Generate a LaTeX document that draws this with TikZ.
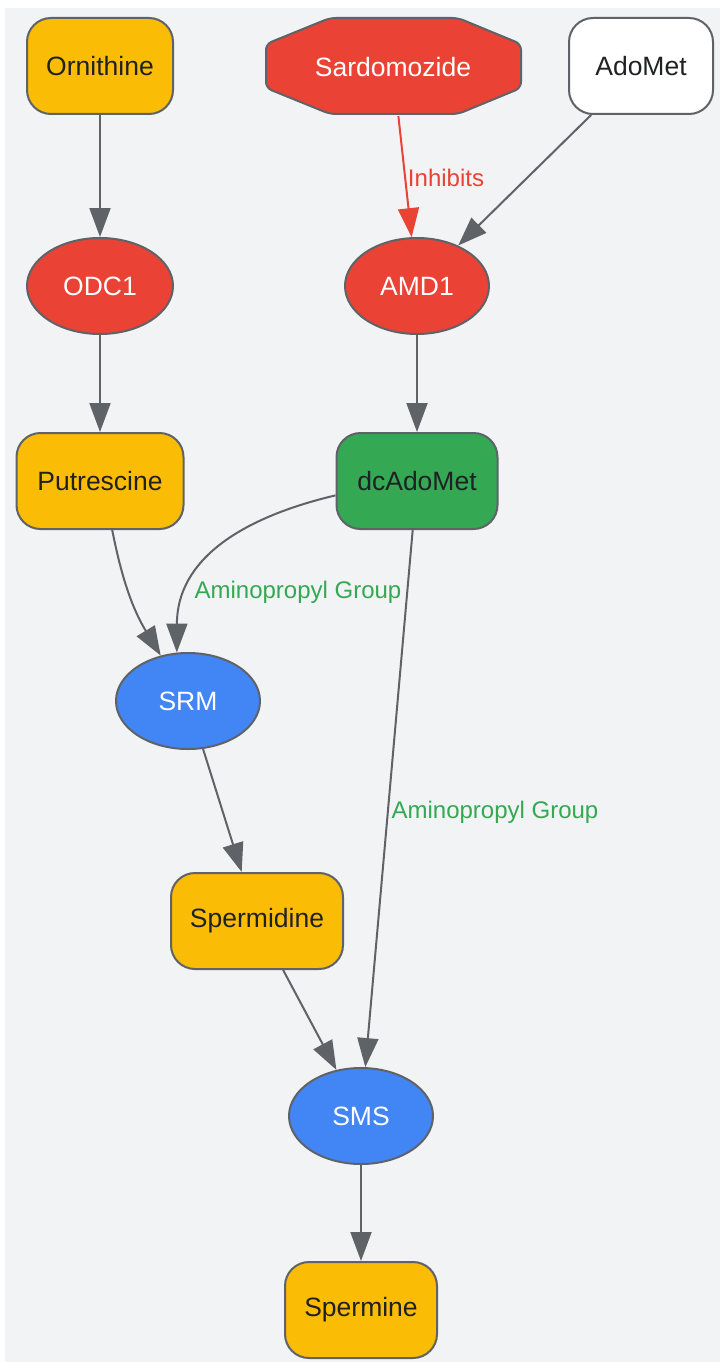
\documentclass[tikz,border=0pt]{standalone}
\usepackage{fontspec}
\setmainfont{Liberation Sans}
\usetikzlibrary{arrows.meta,shapes.geometric}
\definecolor{bgc}{HTML}{F1F3F4}
\definecolor{bordc}{HTML}{5F6368}
\definecolor{yel}{HTML}{FBBC05}
\definecolor{redc}{HTML}{EA4335}
\definecolor{bluc}{HTML}{4285F4}
\definecolor{grnc}{HTML}{34A853}
\definecolor{txtc}{HTML}{202124}
\tikzset{
  base/.style={draw=bordc, line width=2pt, inner sep=0pt, font=\fontsize{26.5}{30}\selectfont},
  rbox/.style={base, rectangle, rounded corners=24pt, minimum height=96pt},
  ell/.style={base, ellipse, minimum height=96pt, text=white},
  conn/.style={draw=bordc, line width=2pt, -{Triangle[length=29pt,width=21pt]}},
  lbl/.style={font=\fontsize{24}{28}\selectfont, inner sep=0pt},
}
\begin{document}
\begin{tikzpicture}[x=1pt,y=-1pt]
\useasboundingbox (0,0) rectangle (720,1362);
\fill[bgc] (5,8) rectangle (720,1362);
% Sardomozide octagon
\filldraw[fill=redc, draw=bordc, line width=2pt, rounded corners=6pt]
  (266,44) -- (330,18) -- (458,18) -- (521,44) -- (521,88) -- (458,114) -- (330,114) -- (266,88) -- cycle;
\node[base, draw=none, rectangle, minimum width=255pt, minimum height=96pt, text=white] (sard) at (393,67) {Sardomozide};
\node[rbox, fill=yel, text=txtc, minimum width=146pt] (orn) at (100,66) {Ornithine};
\node[rbox, fill=white, text=txtc, minimum width=144pt] (adomet) at (641,66) {AdoMet};
\node[ell, fill=redc, minimum width=146pt] (odc) at (100,286) {ODC1};
\node[ell, fill=redc, minimum width=144pt] (amd) at (417,286) {AMD1};
\node[rbox, fill=yel, text=txtc, minimum width=167pt] (put) at (100,481) {Putrescine};
\node[rbox, fill=grnc, text=txtc, minimum width=161pt] (dc) at (417,481) {dcAdoMet};
\node[ell, fill=bluc, minimum width=144pt] (srm) at (188,701) {SRM};
\node[rbox, fill=yel, text=txtc, minimum width=172pt] (spd) at (257,921) {Spermidine};
\node[ell, fill=bluc, minimum width=144pt] (sms) at (361,1116) {SMS};
\node[rbox, fill=yel, text=txtc, minimum width=152pt] (spm) at (361,1310) {Spermine};
% connectors
\draw[conn] (orn) -- (odc);
\draw[conn, draw=redc, fill=redc] (sard) -- (amd);
\node[lbl, text=redc] (l1) at (446,178) {Inhibits};
\draw[conn] (adomet) -- (amd);
\draw[conn] (odc) -- (put);
\draw[conn] (amd) -- (dc);
\draw[conn] (put.-76) to[bend right=10] (srm.121);
\draw[conn] (dc.190) .. controls (240,518) and (177,560) .. (srm.103);
\node[lbl, text=grnc] (l2) at (298,592) {Aminopropyl Group};
\draw[conn] (dc) -- (sms);
\node[lbl, text=grnc] (l3) at (495,812) {Aminopropyl Group};
\draw[conn] (srm) -- (spd);
\draw[conn] (spd) -- (sms);
\draw[conn] (sms) -- (spm);
\end{tikzpicture}
\end{document}
